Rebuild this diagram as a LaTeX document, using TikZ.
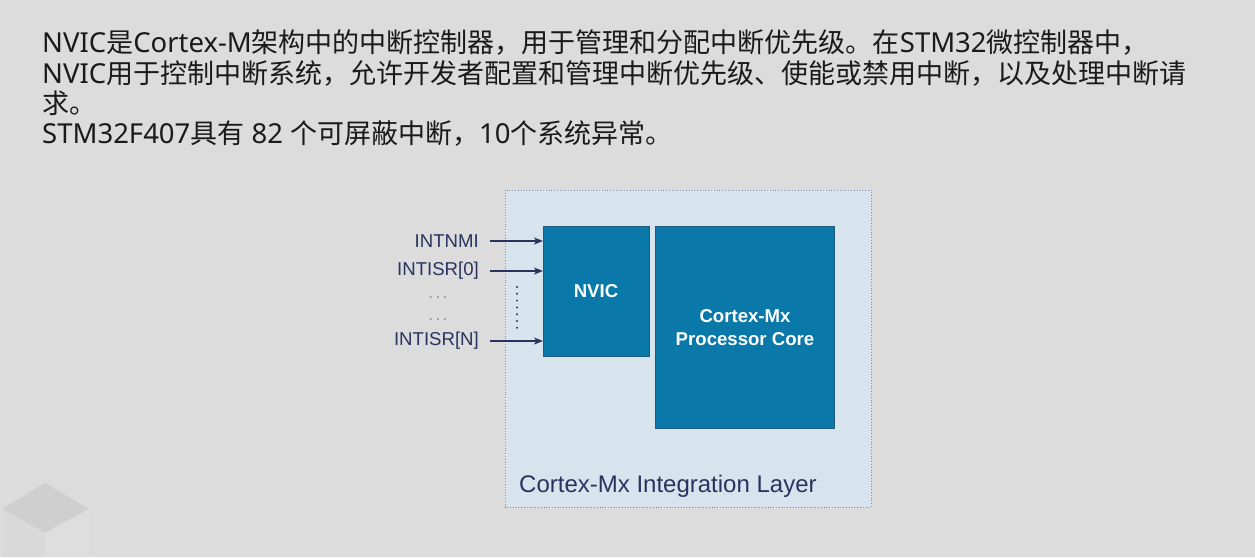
\documentclass[tikz,border=0pt]{standalone}
\usepackage{fontspec}
\setmainfont{Liberation Sans}
\newfontfamily\cjk{Noto Sans CJK SC}
\newfontfamily\latfont{Noto Sans}
\newcommand{\lat}[1]{{\latfont\fontsize{27.5}{30}\selectfont #1}}
\usetikzlibrary{arrows.meta}
\definecolor{bg}{HTML}{DCDCDC}
\definecolor{layerfill}{HTML}{D7E3ED}
\definecolor{layerline}{HTML}{7F8C9C}
\definecolor{blockfill}{HTML}{0A78A8}
\definecolor{blockline}{HTML}{1F5A7E}
\definecolor{navy}{HTML}{28345F}
\definecolor{txt}{HTML}{1A1A1A}
\tikzset{
  para/.style={anchor=base west, inner sep=0pt, text=txt, font=\cjk\fontsize{27}{30}\selectfont},
  block/.style={draw=blockline, line width=1pt, fill=blockfill, inner sep=0pt},
  blocktext/.style={text=white, font=\bfseries\fontsize{18.6}{23}\selectfont, align=center, inner sep=0pt},
  sig/.style={anchor=east, inner sep=0pt, text=navy, font=\fontsize{18.6}{22}\selectfont},
  sigarrow/.style={draw=navy, line width=1.3pt, -{Stealth[length=9pt,width=7pt,inset=2.5pt]}},
  ellip/.style={inner sep=0pt, text=navy!60, font=\fontsize{16}{18}\selectfont}
}
\begin{document}
\begin{tikzpicture}[x=1pt,y=-1pt]
\useasboundingbox (0,0) rectangle (1255,557);
\fill[bg] (0,0) rectangle (1255,557);
% decorative cube
\fill[black!19] (2,509) -- (45,483) -- (89,509) -- (45,533) -- cycle;
\fill[black!15] (2,509) -- (45,533) -- (45,557) -- (2,557) -- cycle;
\fill[black!13] (45,533) -- (89,509) -- (89,557) -- (45,557) -- cycle;
% paragraph
\node[para] (l1) at (42,52) {\lat{NVIC}是\lat{Cortex-M}架构中的中断控制器，用于管理和分配中断优先级。在\lat{STM32}微控制器中，};
\node[para] (l2) at (42,83) {\lat{NVIC}用于控制中断系统，允许开发者配置和管理中断优先级、使能或禁用中断，以及处理中断请};
\node[para] (l3) at (42,113) {求。};
\node[para] (l4) at (42,143) {\lat{STM32F407}具有\lat{ 82 }个可屏蔽中断，\lat{10}个系统异常。};
% layer
\draw[layerline, fill=layerfill, line width=0.8pt, dotted] (505,190) rectangle (871,507);
\node[anchor=base west, inner sep=0pt, text=navy, font=\fontsize{24}{28}\selectfont] (layer) at (519,492) {Cortex-Mx Integration Layer};
% blocks
\draw[block] (543,226) rectangle (649,356);
\node[blocktext] (nvic) at (596,291) {NVIC};
\coordinate (nvicw) at (543,291);
\draw[block] (655,226) rectangle (834,428);
\node[blocktext] (core) at (745,328) {Cortex-Mx\\Processor Core};
% signals
\node[sig] (nmi) at (479,241) {INTNMI};
\node[sig] (isr0) at (479,271) {INTISR[0]};
\node[sig] (isrn) at (479,341) {INTISR[N]};
\node[ellip] (d1) at (438,298) {.\,.\,.};
\node[ellip] (d2) at (438,320) {.\,.\,.};
\coordinate (a1) at (490,241);
\coordinate (a2) at (490,271);
\coordinate (a3) at (490,341);
\draw[sigarrow] (a1) -- (a1 -| nvicw);
\draw[sigarrow] (a2) -- (a2 -| nvicw);
\draw[sigarrow] (a3) -- (a3 -| nvicw);
\coordinate (v1) at (517,287);
\coordinate (v2) at (517,328);
\draw[navy, line width=2.2pt, line cap=round, dash pattern=on 0pt off 6.8pt] (v1) -- (v2);
\end{tikzpicture}
\end{document}
